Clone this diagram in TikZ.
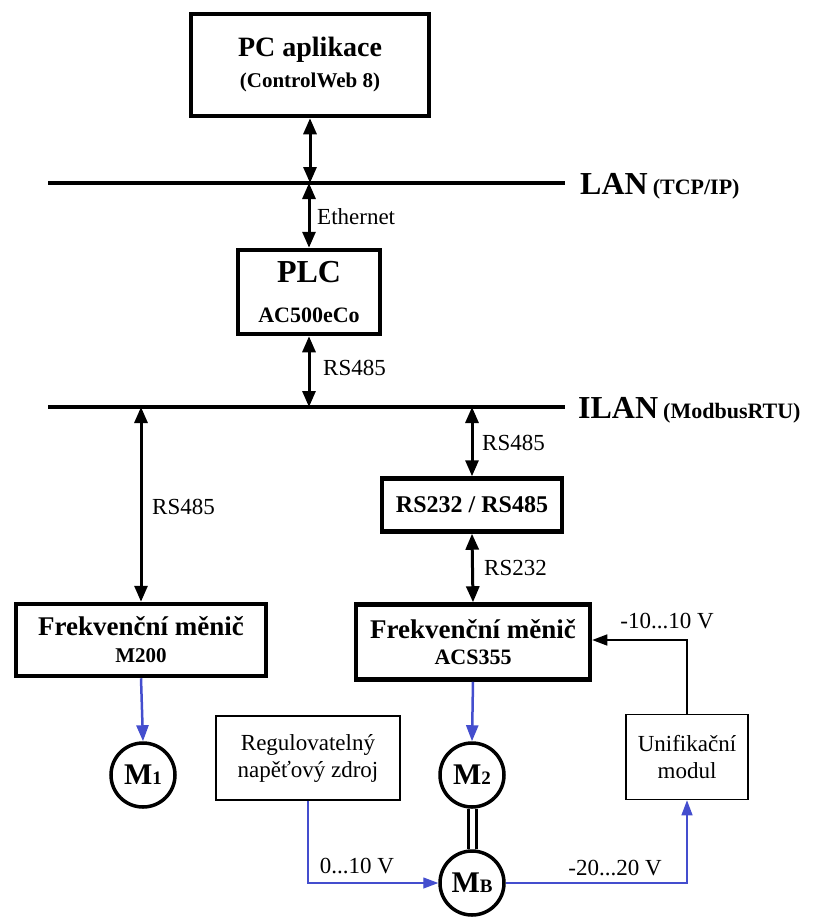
\documentclass[tikz,border=0pt]{standalone}
\usepackage{fontspec}
\setmainfont{Liberation Serif}
\usetikzlibrary{arrows.meta}
\definecolor{drvblue}{RGB}{68,78,206}

\begin{document}
\begin{tikzpicture}[x=1pt,y=-1pt,
  thickbox/.style={draw,rectangle,line width=4.5pt,align=center,inner sep=0pt},
  thinbox/.style={draw,rectangle,line width=1.6pt,align=center,inner sep=0pt,font=\fontsize{23}{27}\selectfont},
  motor/.style={draw,circle,line width=3.5pt,minimum size=64pt,inner sep=0pt},
  bus/.style={line width=4pt},
  link/.style={line width=3pt,{Triangle[length=16pt,width=13pt]}-{Triangle[length=16pt,width=13pt]}},
  feed/.style={line width=2.5pt,drvblue,-{Triangle[length=16pt,width=12pt]}},
  sig/.style={line width=1.3pt,drvblue,-{Triangle[length=15pt,width=11pt]}},
  fb/.style={line width=1.5pt,-{Triangle[length=15pt,width=11pt]}},
  lbl/.style={inner sep=0pt,font=\fontsize{23}{27}\selectfont}]
\useasboundingbox (0,0) rectangle (813,918);

% PC application and LAN
\node[thickbox,minimum width=238pt,minimum height=102pt,font=\fontsize{28}{31}\selectfont\bfseries] (pc) at (310,65) {%
  PC aplikace\\
  {\fontsize{21}{31}\selectfont (ControlWeb 8)}};
\coordinate (lanL) at (48,183);
\coordinate (lanR) at (565,183);
\draw[bus] (lanL) -- (lanR);
\node[anchor=base west,inner sep=0pt,font=\bfseries] (lan) at (580,194) {%
  {\fontsize{32}{36}\selectfont LAN}\hspace{5pt}{\fontsize{22}{24}\selectfont (TCP/IP)}};

% PLC
\node[thickbox,minimum width=142pt,minimum height=84pt,font=\fontsize{32}{40}\selectfont\bfseries] (plc) at (309,292) {%
  PLC\\
  {\fontsize{22}{40}\selectfont AC500eCo}};
\draw[link] (pc.south) -- (pc.south |- lanL);
\draw[link] (plc.north) -- (plc.north |- lanL);
\node[lbl,anchor=west] (eth) at (317,217) {Ethernet};

% ILAN
\coordinate (ilanL) at (48,407);
\coordinate (ilanR) at (565,407);
\draw[bus] (ilanL) -- (ilanR);
\node[anchor=base west,inner sep=0pt,font=\bfseries] (ilan) at (578,418) {%
  {\fontsize{32}{36}\selectfont ILAN}\hspace{5pt}{\fontsize{22}{24}\selectfont (ModbusRTU)}};
\draw[link] (plc.south) -- (plc.south |- ilanL);
\node[lbl,anchor=west] (rs1) at (323,368) {RS485};

% left drive
\node[thickbox,minimum width=250pt,minimum height=72pt,font=\fontsize{27}{27}\selectfont\bfseries] (m200) at (141,640) {%
  Frekvenční měnič\\
  {\fontsize{21}{27}\selectfont M200}};
\draw[link] (m200.north) -- (m200.north |- ilanL);
\node[lbl,anchor=west] (rs2) at (152,507) {RS485};
\node[motor] (m1) at (143,775) {\bfseries\fontsize{30}{32}\selectfont M\fontsize{19}{20}\selectfont 1};
\draw[feed] (m200.south) -- (m1.north);

% right drive with converter
\node[thickbox,minimum width=180pt,minimum height=53pt,font=\fontsize{24}{27}\selectfont\bfseries] (conv) at (472,505) {RS232 / RS485};
\draw[link] (conv.north) -- (conv.north |- ilanL);
\node[lbl,anchor=west] (rs3) at (482,443) {RS485};
\node[thickbox,minimum width=234pt,minimum height=75pt,font=\fontsize{27}{26}\selectfont\bfseries] (acs) at (473,642) {%
  Frekvenční měnič\\
  {\fontsize{22}{26}\selectfont ACS355}};
\draw[link] (conv.south) -- (acs.north);
\node[lbl,anchor=west] (rs4) at (484,568) {RS232};

% motors
\node[motor] (m2) at (472,775) {\bfseries\fontsize{30}{32}\selectfont M\fontsize{19}{20}\selectfont 2};
\node[motor] (mb) at (472,883) {\bfseries\fontsize{30}{32}\selectfont M\fontsize{19}{20}\selectfont B};
\draw[feed] (acs.south) -- (m2.north);
\draw[line width=3pt,double,double distance=5pt] (m2.south) -- (mb.north);

% voltage source and unification module
\node[thinbox,minimum width=184pt,minimum height=84pt] (src) at (308,758) {Regulovatelný\\napěťový zdroj};
\node[thinbox,minimum width=122pt,minimum height=85pt] (unif) at (687,757) {Unifikační\\modul};
\draw[sig] (src.south) |- (mb.west);
\node[lbl] (u1) at (357,866) {0...10 V};
\draw[sig] (mb.east) -| (unif.south);
\node[lbl] (u2) at (615,868) {-20...20 V};
\draw[fb] (unif.north) |- (acs.east |- 0,640);
\node[lbl] (u3) at (667,621) {-10...10 V};
\end{tikzpicture}
\end{document}
